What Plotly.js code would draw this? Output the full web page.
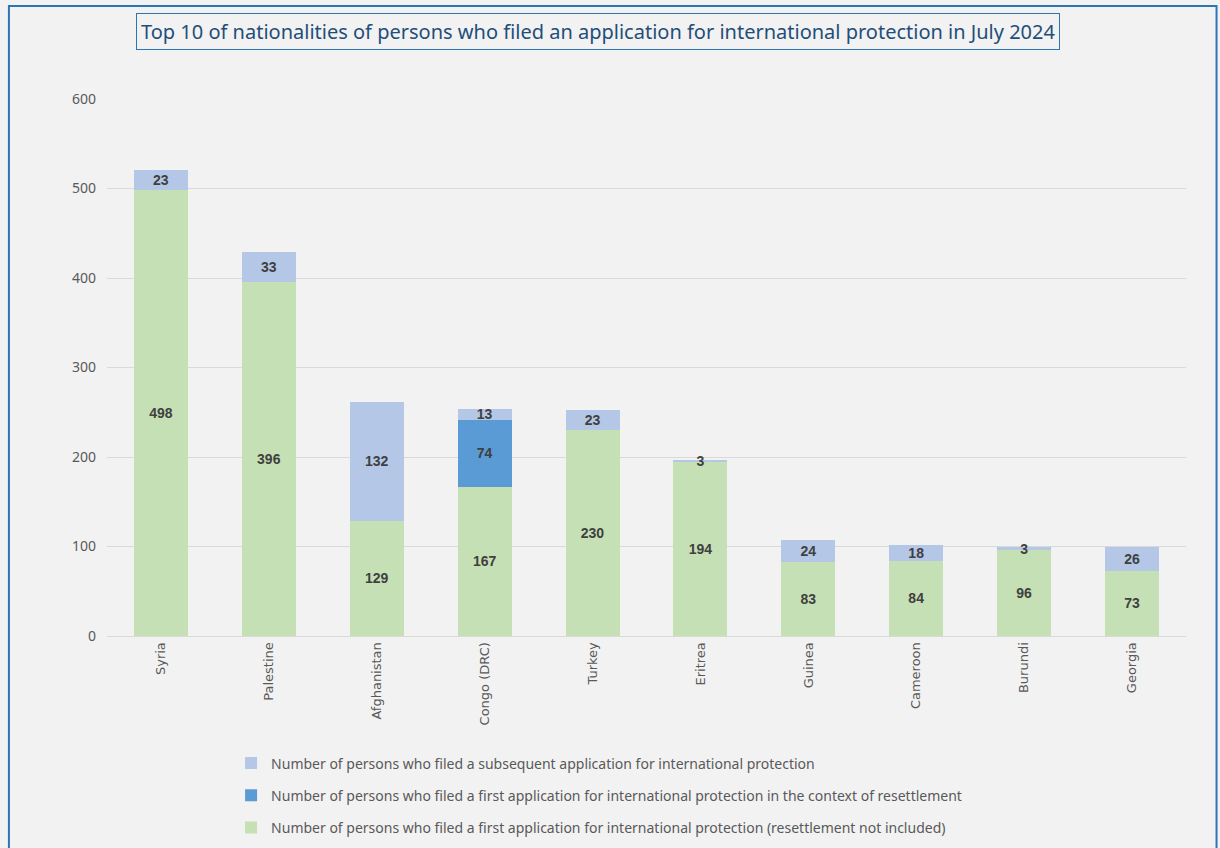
<!DOCTYPE html>
<html>
<head>
<meta charset="utf-8">
<script src="https://cdn.plot.ly/plotly-3.0.1.min.js"></script>
<style>
html,body{margin:0;padding:0;background:#f2f2f2;}
#chart{width:1220px;height:848px;}
</style>
</head>
<body>
<div id="chart"></div>
<script>
const categories = ["Syria","Palestine","Afghanistan","Congo (DRC)","Turkey","Eritrea","Guinea","Cameroon","Burundi","Georgia"];
const firstApplication = [498,396,129,167,230,194,83,84,96,73];
const resettlement = [null,null,null,74,null,null,null,null,null,null];
const subsequent = [23,33,132,13,23,3,24,18,3,26];

const seriesNames = [
  "Number of persons who filed a first application for international protection (resettlement not included)",
  "Number of persons who filed a first application for international protection in the context of resettlement",
  "Number of persons who filed a subsequent application for international protection"
];
const titleText = "Top 10 of nationalities of persons who filed an application for international protection in July 2024";

const labelFont = {family: "Liberation Sans, Arial, sans-serif", size: 14, color: "#404040", weight: "bold"};
const narrow = "Noto Sans, sans-serif";

function barTrace(values, name, color, group, rank){
  return {
    type: "bar", x: categories, y: values, name: name, legendgroup: group, legendrank: rank,
    marker: {color: color},
    width: 0.5,
    texttemplate: "%{y}", textposition: "inside", insidetextanchor: "middle",
    textangle: 0,
    textfont: labelFont, constraintext: "none",
    hoverinfo: "x+y+name"
  };
}

const data = [
  barTrace(firstApplication, seriesNames[0], "#c5e0b4", "g1", 3),
  barTrace(resettlement, seriesNames[1], "#5b9bd5", "g2", 2),
  barTrace(subsequent, seriesNames[2], "#b4c7e7", "g3", 1)
];

const layout = {
  width: 1220, height: 848,
  margin: {l: 107, r: 34, t: 99, b: 212},
  paper_bgcolor: "#f2f2f2", plot_bgcolor: "#f2f2f2",
  barmode: "stack",
  uniformtext: {mode: "show", minsize: 14},
  font: {family: narrow, color: "#595959"},
  xaxis: {
    tickangle: -90,
    tickfont: {family: "DejaVu Sans, sans-serif", size: 13, color: "#595959"},
    showline: true, linecolor: "#d9d9d9", linewidth: 1,
    ticks: "", showgrid: false
  },
  yaxis: {
    range: [0, 600], dtick: 100,
    gridcolor: "#d9d9d9", zeroline: false,
    tickfont: {family: narrow, size: 14, color: "#595959"},
    ticklabelstandoff: 10
  },
  showlegend: true,
  legend: {
    orientation: "v", x: 0.115, xanchor: "left",
    yref: "container", y: 0.1185, yanchor: "top",
    traceorder: "grouped", tracegroupgap: 11,
    font: {family: narrow, size: 14, color: "#595959"},
    bgcolor: "rgba(0,0,0,0)"
  },
  annotations: [{
    text: titleText, xref: "paper", yref: "paper", x: 0.455, y: 1.1257,
    xanchor: "center", yanchor: "middle", showarrow: false,
    font: {family: narrow, size: 20, color: "#1f4e79"},
    bordercolor: "#2e75b6", borderwidth: 1, borderpad: 4, bgcolor: "#f2f2f2"
  }],
  shapes: [{
    type: "rect", xref: "paper", yref: "paper",
    x0: -0.0909, x1: 1.0283, y0: 1.1732, y1: -0.45,
    line: {color: "#2e75b6", width: 2}, fillcolor: "rgba(0,0,0,0)", layer: "below"
  }]
};

Plotly.newPlot("chart", data, layout, {displayModeBar: false, responsive: false});
</script>
</body>
</html>
